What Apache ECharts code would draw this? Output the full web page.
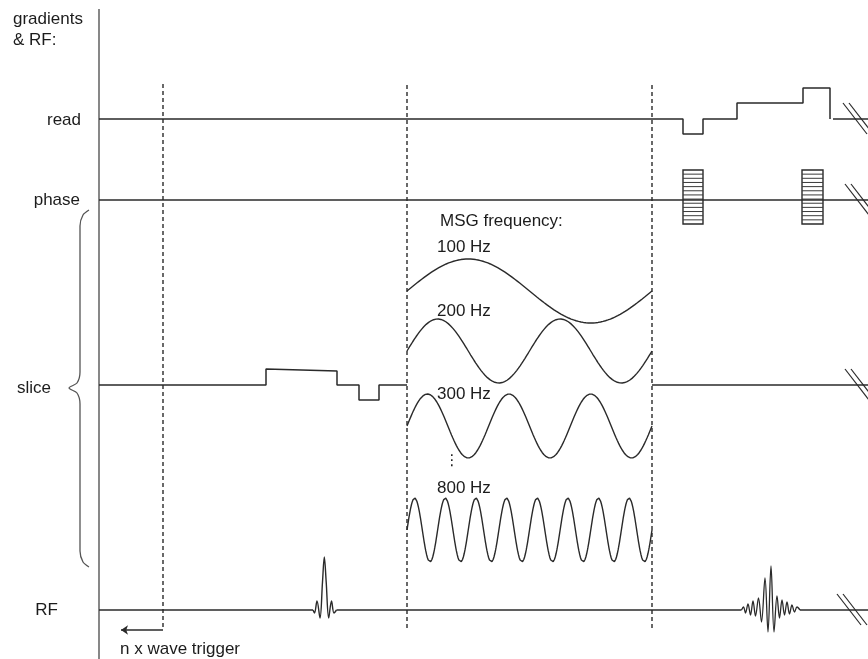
<!DOCTYPE html>
<html>
<head>
<meta charset="utf-8">
<script src="https://cdn.jsdelivr.net/npm/echarts@6/dist/echarts.min.js"></script>
<style>
  html, body { margin: 0; padding: 0; background: #ffffff; }
  #chart { width: 868px; height: 659px; }
</style>
</head>
<body>
<div id="chart"></div>
<script>
// ---- Sequence data (diagram units; y grows downward, amplitudes are upward) ----
const rowNames = ['read', 'phase', 'slice', 'RF'];
const rowBaselines = [119, 200, 385, 610];

// Read gradient: [time, amplitude]
const readGradient = [[99, 0], [683, 0], [683, -15], [703, -15], [703, 0], [737, 0], [737, 16],
  [803, 16], [803, 31], [830, 31], [830, 0]];
const readTail = [[833, 0], [868, 0]];

// Phase encoding tables: [start, end]
const phaseBlocks = [[683, 703], [802, 823]];
const phaseBlockTop = 30;
const phaseBlockBottom = -24;
const phaseSteps = 13;

// Slice gradient
const sliceGradient = [[99, 0], [266, 0], [266, 16], [337, 14], [337, 0], [359, 0], [359, -15],
  [379, -15], [379, 0], [407, 0]];
const sliceTail = [[652, 0], [868, 0]];

// RF: baseline pieces, excitation sinc and echo
const rfBaselinePieces = [[[99, 0], [313, 0]], [[336.5, 0], [741.5, 0]], [[800, 0], [868, 0]]];
const rfExcitation = [[313, 0], [314.5, -3], [317, 9], [320, -8], [322.5, 28], [324.3, 53],
  [326.2, 28], [328.7, -8], [331.5, 9], [334, -3], [336.5, 0]];
const rfEcho = [[741.5, 0], [743.5, 3], [745.5, -3], [748, 6], [750.5, -5], [753, 9], [755.5, -6],
  [758.5, 12], [761.5, -12], [765, 32], [768, -22], [771, 44], [774, -22], [777, 14], [779.5, -8],
  [782, 10], [784.5, -5], [787, 8], [789.5, -4], [792, 5], [794.5, -2], [797, 3], [800, 0]];

// Magnetic-field-gradient (MSG) motion encoding waveforms
const msgFrequencies = [100, 200, 300, 800];
const msgLabels = ['100 Hz', '200 Hz', '300 Hz', '800 Hz'];
const msgBaselines = [291, 351, 426, 530];
const msgAmplitude = 32;
const msgDurationMs = 10;
const msgWindow = [407, 652];

// Trigger / timing markers
const triggerLines = [[163, 84, 630], [407, 85, 628], [652, 85, 628]];
const breakMarks = [843, 845, 845, 837];

// ---- helpers ----
const INK = '#2a2a2a';
const FONT = '17px "Liberation Sans", Arial, Helvetica, sans-serif';

function onRow(points, base) {
  return points.map(p => [p[0], base - p[1]]);
}

function lineSeries(data, extra) {
  return Object.assign({
    type: 'line',
    data: data,
    showSymbol: false,
    symbol: 'none',
    silent: true,
    animation: false,
    lineStyle: { color: INK, width: 1.5 }
  }, extra || {});
}

function sineTrace(freq, base) {
  const n = 600;
  const pts = [];
  for (let i = 0; i <= n; i++) {
    const tMs = msgDurationMs * i / n;
    const x = msgWindow[0] + (msgWindow[1] - msgWindow[0]) * i / n;
    pts.push([x, base - msgAmplitude * Math.sin(2 * Math.PI * freq * tMs / 1000)]);
  }
  return pts;
}

const series = [];

// time axis of the diagram
series.push(lineSeries([[99, 9], [99, 659]], { lineStyle: { color: '#6a6a6a', width: 1.6 } }));

// read
series.push(lineSeries(onRow(readGradient, rowBaselines[0])));
series.push(lineSeries(onRow(readTail, rowBaselines[0])));

// phase baseline and phase-encoding tables
series.push(lineSeries(onRow([[99, 0], [868, 0]], rowBaselines[1])));
series.push({
  type: 'custom',
  silent: true,
  animation: false,
  data: phaseBlocks,
  renderItem: function (params, api) {
    const x0 = api.value(0), x1 = api.value(1);
    const base = rowBaselines[1];
    const tl = api.coord([x0, base - phaseBlockTop]);
    const br = api.coord([x1, base - phaseBlockBottom]);
    const children = [{
      type: 'rect',
      shape: { x: tl[0], y: tl[1], width: br[0] - tl[0], height: br[1] - tl[1] },
      style: { fill: '#fff', stroke: INK, lineWidth: 1.4 }
    }];
    for (let k = 1; k < phaseSteps; k++) {
      const y = tl[1] + (br[1] - tl[1]) * k / phaseSteps;
      children.push({
        type: 'line',
        shape: { x1: tl[0], y1: y, x2: br[0], y2: y },
        style: { stroke: '#3a3a3a', lineWidth: 1 }
      });
    }
    return { type: 'group', children: children };
  }
});

// slice
series.push(lineSeries(onRow(sliceGradient, rowBaselines[2])));
series.push(lineSeries(onRow(sliceTail, rowBaselines[2])));

// RF
rfBaselinePieces.forEach(piece => series.push(lineSeries(onRow(piece, rowBaselines[3]))));
series.push(lineSeries(onRow(rfExcitation, rowBaselines[3]), { smooth: 0.35, lineStyle: { color: INK, width: 1.4 } }));
series.push(lineSeries(onRow(rfEcho, rowBaselines[3]), { smooth: 0.35, lineStyle: { color: INK, width: 1.3 } }));

// MSG sinusoids
msgFrequencies.forEach((f, i) => {
  series.push(lineSeries(sineTrace(f, msgBaselines[i]), { lineStyle: { color: INK, width: 1.4 } }));
});

// dashed trigger / timing lines
triggerLines.forEach(t => {
  series.push(lineSeries([[t[0], t[1]], [t[0], t[2]]], {
    lineStyle: { color: INK, width: 1.4, type: [4, 3] }
  }));
});

// trigger arrow
series.push({
  type: 'lines',
  coordinateSystem: 'cartesian2d',
  silent: true,
  animation: false,
  symbol: ['none', 'arrow'],
  symbolSize: 7,
  lineStyle: { color: INK, width: 1.5, opacity: 1 },
  data: [{ coords: [[163, 630], [121, 630]] }]
});

// break marks at the right edge of each row
const breakData = [];
rowBaselines.forEach((base, i) => {
  const bx = breakMarks[i];
  breakData.push({ coords: [[bx, base - 16], [bx + 24, base + 15]] });
  breakData.push({ coords: [[bx + 6, base - 16], [bx + 30, base + 15]] });
});
series.push({
  type: 'lines',
  coordinateSystem: 'cartesian2d',
  silent: true,
  animation: false,
  symbol: 'none',
  lineStyle: { color: INK, width: 1.2, opacity: 1 },
  data: breakData
});

// curly brace grouping the slice row
const sliceBrace = [[89, 210], [83, 215], [80, 226], [80, 372], [77, 383], [69, 388], [77, 393],
  [80, 404], [80, 551], [83, 562], [89, 567]];
series.push(lineSeries(sliceBrace, { smooth: 0.3, lineStyle: { color: '#555', width: 1.3 } }));

// text labels: [x, y, text, align]
const textLabels = [
  [13, 19, 'gradients', 'left'],
  [13, 40, '& RF:', 'left'],
  [81, 120, rowNames[0], 'right'],
  [80, 200, rowNames[1], 'right'],
  [51, 388, rowNames[2], 'right'],
  [58, 610, rowNames[3], 'right'],
  [120, 649, 'n x wave trigger', 'left'],
  [440, 221, 'MSG frequency:', 'left']
];
const msgLabelY = [247, 311, 394, 488];
msgLabels.forEach((t, i) => textLabels.push([437, msgLabelY[i], t, 'left']));
textLabels.push([452, 461, '\u22EE', 'center']);

series.push({
  type: 'custom',
  silent: true,
  animation: false,
  data: textLabels.map(t => [t[0], t[1]]),
  renderItem: function (params, api) {
    const t = textLabels[params.dataIndex];
    const p = api.coord([t[0], t[1]]);
    return {
      type: 'text',
      x: p[0],
      y: p[1],
      style: {
        text: t[2],
        fill: '#1c1c1c',
        font: t[2] === '\u22EE' ? '15px "DejaVu Sans", sans-serif' : FONT,
        align: t[3],
        verticalAlign: 'middle'
      }
    };
  }
});

const chart = echarts.init(document.getElementById('chart'), null, { renderer: 'canvas' });
chart.setOption({
  backgroundColor: '#ffffff',
  animation: false,
  grid: { left: 0, right: 0, top: 0, bottom: 0 },
  xAxis: { type: 'value', min: 0, max: 868, show: false },
  yAxis: { type: 'value', min: 0, max: 659, inverse: true, show: false },
  series: series
});
</script>
</body>
</html>
